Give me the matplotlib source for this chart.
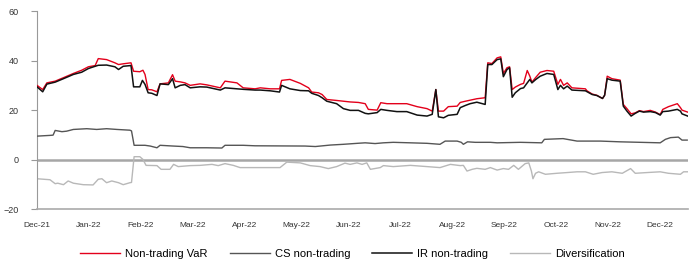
import matplotlib
matplotlib.use("Agg")
import matplotlib.pyplot as plt

plt.rcParams['font.family'] = ['Liberation Sans', 'DejaVu Sans']

months = ["Dec-21", "Jan-22", "Feb-22", "Mar-22", "Apr-22", "May-22", "Jun-22",
          "Jul-22", "Aug-22", "Sep-22", "Oct-22", "Nov-22", "Dec-22"]

# x positions in months since end of Dec-21
var_x = [0.00, 0.11, 0.19, 0.35, 0.51, 0.70, 0.86, 0.99, 1.12, 1.18, 1.34, 1.50, 1.57, 1.66,
         1.81, 1.86, 1.98, 2.04, 2.08, 2.14, 2.21, 2.31, 2.37, 2.53, 2.61, 2.66, 2.76, 2.85,
         2.95, 3.14, 3.27, 3.53, 3.62, 3.85, 3.97, 4.20, 4.30, 4.49, 4.67, 4.71, 4.87, 5.07,
         5.23, 5.29, 5.42, 5.49, 5.58, 5.77, 5.90, 6.03, 6.19, 6.32, 6.38, 6.55, 6.62, 6.74,
         7.12, 7.32, 7.51, 7.61, 7.68, 7.73, 7.83, 7.92, 8.09, 8.15, 8.25, 8.47, 8.63, 8.68,
         8.76, 8.86, 8.93, 8.98, 9.05, 9.10, 9.15, 9.21, 9.31, 9.37, 9.44, 9.49, 9.53, 9.60,
         9.69, 9.82, 9.95, 10.03, 10.08, 10.14, 10.21, 10.30, 10.56, 10.59, 10.69, 10.78,
         10.89, 10.93, 10.98, 11.07, 11.23, 11.29, 11.36, 11.44, 11.52, 11.60, 11.68, 11.81,
         11.91, 12.00, 12.05, 12.16, 12.33, 12.39, 12.42, 12.53]
var_y = [30.0, 28.3, 31.0, 31.7, 33.1, 34.8, 36.1, 37.5, 38.0, 40.8, 40.4, 39.1, 38.4, 38.7,
         39.1, 35.7, 35.5, 36.1, 34.4, 28.3, 28.2, 27.4, 30.6, 31.0, 34.3, 31.7, 31.4, 31.0,
         30.0, 30.6, 30.2, 29.0, 31.7, 31.0, 29.0, 28.6, 29.0, 28.6, 28.6, 32.0, 32.4, 30.8,
         29.0, 27.3, 27.0, 26.3, 24.3, 23.9, 23.6, 23.3, 23.1, 22.6, 20.3, 20.0, 23.0, 22.6,
         22.6, 21.4, 20.6, 19.6, 28.3, 19.6, 19.6, 21.4, 21.6, 23.1, 23.6, 24.6, 25.0, 39.1,
         38.8, 41.1, 41.5, 34.8, 37.1, 37.5, 28.3, 29.3, 30.4, 30.8, 36.0, 33.7, 31.3, 33.1,
         35.3, 36.0, 35.7, 30.4, 32.4, 30.0, 31.0, 29.0, 28.6, 27.8, 26.5, 26.0,
         24.7, 26.0, 33.7, 32.7, 32.1, 22.3, 20.6, 18.5, 18.9, 19.8, 19.4, 19.9,
         19.2, 18.2, 20.3, 21.4, 22.6, 21.0, 20.0, 19.2]

ir_x = [0.00, 0.11, 0.19, 0.35, 0.51, 0.70, 0.86, 0.99, 1.12, 1.18, 1.34, 1.50, 1.57, 1.66,
        1.81, 1.86, 1.98, 2.03, 2.08, 2.14, 2.21, 2.31, 2.37, 2.53, 2.61, 2.66, 2.76, 2.85,
        2.95, 3.14, 3.27, 3.53, 3.62, 3.85, 3.97, 4.20, 4.30, 4.49, 4.67, 4.71, 4.87, 5.07,
        5.23, 5.29, 5.42, 5.49, 5.58, 5.77, 5.90, 6.03, 6.19, 6.32, 6.38, 6.55, 6.62, 6.74,
        6.93, 7.12, 7.32, 7.51, 7.61, 7.68, 7.73, 7.83, 7.92, 8.09, 8.15, 8.25, 8.34, 8.47,
        8.63, 8.68, 8.76, 8.86, 8.93, 8.98, 9.05, 9.10, 9.15, 9.21, 9.31, 9.37, 9.44, 9.49,
        9.53, 9.60, 9.69, 9.82, 9.95, 10.03, 10.08, 10.14, 10.21, 10.30, 10.56, 10.69, 10.78,
        10.89, 10.93, 10.98, 11.07, 11.23, 11.29, 11.36, 11.44, 11.52, 11.60, 11.68, 11.81,
        11.91, 12.00, 12.05, 12.16, 12.33, 12.39, 12.42, 12.53]
ir_y = [29.4, 27.4, 30.5, 31.3, 32.7, 34.4, 35.3, 36.8, 37.7, 38.1, 38.2, 37.5, 36.4, 37.7,
        38.0, 29.4, 29.4, 32.0, 30.4, 27.0, 26.8, 25.9, 30.6, 30.3, 32.7, 29.0, 30.0, 30.3,
        29.0, 29.4, 29.3, 28.1, 29.0, 28.6, 28.4, 28.1, 28.1, 27.8, 27.3, 30.0, 28.6, 27.9,
        27.8, 26.8, 25.9, 25.0, 23.6, 22.6, 20.6, 19.9, 19.9, 18.7, 18.5, 19.0, 20.3, 19.9,
        19.4, 19.4, 18.0, 17.6, 18.3, 28.3, 17.3, 16.9, 17.9, 18.3, 21.0, 21.9, 22.6, 23.2,
        22.3, 38.4, 38.4, 40.4, 40.7, 33.5, 36.4, 37.1, 25.2, 27.0, 28.7, 29.0, 31.0, 32.4,
        31.0, 32.3, 33.7, 34.8, 34.4, 28.3, 30.0, 28.6, 29.7, 28.1, 27.8, 26.3, 25.9,
        24.7, 26.0, 32.7, 32.1, 31.7, 21.6, 19.6, 17.6, 18.7, 19.6, 19.2, 19.4,
        19.0, 18.0, 19.4, 19.6, 20.3, 19.6, 18.5, 17.6]

cs_x = [0.00, 0.25, 0.31, 0.35, 0.48, 0.57, 0.70, 0.96, 1.15, 1.34, 1.54, 1.79, 1.82, 1.87,
        2.08, 2.18, 2.31, 2.37, 2.62, 2.81, 2.95, 3.27, 3.56, 3.62, 3.97, 4.20, 5.16, 5.36,
        5.65, 5.90, 6.17, 6.32, 6.51, 6.67, 6.86, 7.19, 7.51, 7.76, 7.86, 8.09, 8.17, 8.21,
        8.29, 8.44, 8.73, 8.86, 9.31, 9.72, 9.77, 10.13, 10.40, 10.85, 11.23, 11.62, 12.00,
        12.10, 12.20, 12.35, 12.42, 12.52]
cs_y = [9.5, 9.8, 9.9, 11.8, 11.3, 11.5, 12.2, 12.5, 12.2, 12.5, 12.2, 11.9, 11.6, 5.8,
        5.8, 5.5, 4.8, 5.8, 5.5, 5.3, 4.8, 4.8, 4.7, 5.8, 5.8, 5.6, 5.5, 5.3,
        5.9, 6.2, 6.6, 6.8, 6.5, 6.8, 7.0, 6.8, 6.6, 6.2, 7.5, 7.5, 7.0, 6.2,
        7.2, 7.0, 7.0, 6.8, 7.0, 6.8, 8.2, 8.5, 7.5, 7.5, 7.2, 7.0, 6.8,
        8.2, 8.9, 9.1, 7.9, 7.9]

div_x = [0.00, 0.25, 0.35, 0.40, 0.51, 0.60, 0.70, 0.89, 1.08, 1.18, 1.25, 1.34, 1.44, 1.57,
         1.66, 1.79, 1.82, 1.87, 1.98, 2.04, 2.10, 2.31, 2.39, 2.56, 2.63, 2.72, 2.95, 3.14,
         3.37, 3.49, 3.62, 3.78, 3.91, 4.20, 4.68, 4.81, 5.07, 5.26, 5.45, 5.61, 5.77, 5.93,
         6.03, 6.16, 6.26, 6.35, 6.42, 6.61, 6.67, 6.86, 7.19, 7.51, 7.76, 7.96, 8.15, 8.21,
         8.28, 8.38, 8.47, 8.63, 8.73, 8.86, 8.98, 9.08, 9.18, 9.27, 9.40, 9.47, 9.52, 9.55,
         9.60, 9.66, 9.79, 10.01, 10.21, 10.40, 10.56, 10.71, 10.88, 11.07, 11.27, 11.43,
         11.52, 11.75, 12.00, 12.16, 12.39, 12.45, 12.53]
div_y = [-7.7, -8.1, -9.7, -9.5, -10.1, -8.6, -9.5, -10.1, -10.2, -7.9, -7.7, -9.3, -8.6, -9.3,
         -10.1, -9.3, -9.2, 1.2, 1.2, 0.1, -2.3, -2.4, -3.9, -3.9, -1.9, -2.8, -2.4, -2.3,
         -1.9, -2.4, -1.6, -2.3, -3.2, -3.2, -3.2, -1.0, -1.3, -2.4, -2.8, -3.6, -2.8, -1.4,
         -1.9, -1.3, -1.9, -1.3, -3.9, -3.2, -2.4, -2.8, -2.3, -2.8, -3.2, -1.9, -2.4, -2.3,
         -4.6, -3.9, -3.5, -3.9, -3.2, -4.2, -3.6, -3.9, -2.3, -3.9, -1.6, -1.3, -4.6, -7.7,
         -5.5, -4.9, -5.9, -5.5, -5.2, -4.9, -4.9, -5.9, -5.2, -4.9, -5.5, -3.6,
         -5.5, -5.2, -4.9, -5.5, -5.9, -4.9, -4.9]

fig = plt.figure(figsize=(6.98, 2.76), dpi=100)
ax = fig.add_axes([0.053, 0.242, 0.933, 0.718])

ax.axhline(0, color="#a6a6a6", linewidth=1.8, zorder=1)
ax.plot(div_x, div_y, color="#b8b8b8", linewidth=1.0, label="Diversification", zorder=2)
ax.plot(cs_x, cs_y, color="#555555", linewidth=1.0, label="CS non-trading", zorder=3)
ax.plot(var_x, var_y, color="#e3001b", linewidth=1.0, label="Non-trading VaR", zorder=4)
ax.plot(ir_x, ir_y, color="#111111", linewidth=1.1, label="IR non-trading", zorder=5)

ax.set_xlim(0, 12.54)
ax.set_ylim(-20, 60)
ax.set_yticks([-20, 0, 20, 40, 60])
ax.set_xticks(range(len(months)))
ax.set_xticklabels(months)
ax.tick_params(axis="x", length=0, pad=9, labelsize=6, labelcolor="#333333")
ax.tick_params(axis="y", length=4, width=0.8, color="#999999", pad=9, labelsize=6.5,
               labelcolor="#333333")

for s in ["top", "right"]:
    ax.spines[s].set_visible(False)
ax.spines["left"].set_color("#999999")
ax.spines["left"].set_linewidth(0.8)
ax.spines["bottom"].set_color("#aaaaaa")
ax.spines["bottom"].set_linewidth(1.2)

handles, labels = ax.get_legend_handles_labels()
order = [2, 1, 3, 0]
fig.legend([handles[i] for i in order], [labels[i] for i in order],
           loc="center", bbox_to_anchor=(0.505, 0.08), ncol=4, frameon=False,
           fontsize=8, handlelength=3.6, handletextpad=0.45, columnspacing=2.0)

fig.savefig("out.png", dpi=100)
